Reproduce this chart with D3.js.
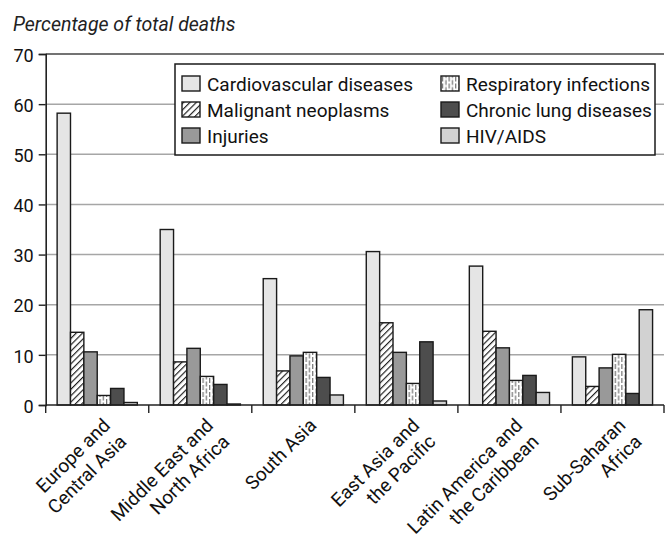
<!DOCTYPE html>
<html>
<head>
<meta charset="utf-8">
<script src="https://cdn.jsdelivr.net/npm/d3@7"></script>
<style>
  html, body { margin: 0; padding: 0; background: #fff; }
  svg { display: block; }
</style>
</head>
<body>
<svg id="chart" width="665" height="538"></svg>
<script>
// ---- Data ----
const categories = [
  ["Europe and", "Central Asia"],
  ["Middle East and", "North Africa"],
  ["South Asia"],
  ["East Asia and", "the Pacific"],
  ["Latin America and", "the Caribbean"],
  ["Sub-Saharan", "Africa"]
];
const seriesNames = ["Cardiovascular diseases", "Malignant neoplasms", "Injuries",
                     "Respiratory infections", "Chronic lung diseases", "HIV/AIDS"];
const cardiovascular = [58.2, 35.0, 25.2, 30.6, 27.7, 9.6];
const malignant      = [14.5, 8.6, 6.8, 16.4, 14.7, 3.7];
const injuries       = [10.6, 11.3, 9.8, 10.5, 11.4, 7.4];
const respiratory    = [1.9, 5.7, 10.5, 4.3, 4.9, 10.1];
const chronicLung    = [3.3, 4.1, 5.5, 12.6, 5.9, 2.3];
const hivAids        = [0.5, 0.2, 2.0, 0.8, 2.5, 19.0];
const yTicks = [0, 10, 20, 30, 40, 50, 60, 70];
const yTitle = "Percentage of total deaths";

const seriesValues = [cardiovascular, malignant, injuries, respiratory, chronicLung, hivAids];
const fills = ["#e5e5e5", "url(#hatch)", "#999999", "url(#dash)", "#4d4d4d", "#d2d2d2"];

// ---- Layout ----
const svg = d3.select("#chart");
const plotLeft = 45.7, plotRight = 664, plotTop = 54, plotBottom = 405;
const font = "Roboto, 'Liberation Sans', Arial, sans-serif";

const catIdx = categories.map((d, i) => i);
const x0 = d3.scaleBand().domain(catIdx).range([plotLeft, plotRight]).padding(0);
const x1 = d3.scaleBand().domain(d3.range(seriesNames.length))
  .range([0, x0.bandwidth()]).paddingInner(0).paddingOuter(0.855);
const y = d3.scaleLinear().domain([0, 70]).range([plotBottom, plotTop]);

// ---- Patterns ----
const defs = svg.append("defs");
const hatch = defs.append("pattern").attr("id", "hatch")
  .attr("patternUnits", "userSpaceOnUse").attr("width", 4.5).attr("height", 4.5)
  .attr("patternTransform", "rotate(45)");
hatch.append("rect").attr("width", 4.5).attr("height", 4.5).attr("fill", "#fff");
hatch.append("line").attr("x1", 0.6).attr("y1", 0).attr("x2", 0.6).attr("y2", 4.5)
  .attr("stroke", "#111").attr("stroke-width", 1.1);

const dash = defs.append("pattern").attr("id", "dash")
  .attr("patternUnits", "userSpaceOnUse").attr("width", 6.6).attr("height", 7);
dash.append("rect").attr("width", 6.6).attr("height", 7).attr("fill", "#fff");
dash.append("line").attr("x1", 1.6).attr("y1", 0).attr("x2", 1.6).attr("y2", 5)
  .attr("stroke", "#555").attr("stroke-width", 1);
dash.append("line").attr("x1", 4.9).attr("y1", 3.5).attr("x2", 4.9).attr("y2", 7)
  .attr("stroke", "#555").attr("stroke-width", 1);
dash.append("line").attr("x1", 4.9).attr("y1", 0).attr("x2", 4.9).attr("y2", 1.5)
  .attr("stroke", "#555").attr("stroke-width", 1);

// ---- Title ----
svg.append("text")
  .attr("x", 13).attr("y", 31)
  .attr("font-family", font).attr("font-style", "italic").attr("font-size", 19.5)
  .attr("fill", "#222")
  .text(yTitle);

// ---- Gridlines ----
svg.append("g").selectAll("line")
  .data(yTicks.filter(t => t > 0 && t < 70))
  .join("line")
  .attr("x1", plotLeft).attr("x2", plotRight)
  .attr("y1", d => y(d)).attr("y2", d => y(d))
  .attr("stroke", "#a6a6a6").attr("stroke-width", 1.5);
// top frame line
svg.append("line")
  .attr("x1", plotLeft).attr("x2", plotRight).attr("y1", y(70)).attr("y2", y(70))
  .attr("stroke", "#444").attr("stroke-width", 1.6);

// ---- Y axis ----
const yAxis = d3.axisLeft(y).tickValues(yTicks).tickSize(7).tickPadding(5).tickFormat(d3.format("d"));
const gy = svg.append("g").attr("transform", `translate(${plotLeft},0)`).call(yAxis);
gy.select(".domain").attr("stroke", "#222").attr("stroke-width", 1.6);
gy.selectAll(".tick line").attr("stroke", "#222").attr("stroke-width", 1.4);
gy.selectAll(".tick text").attr("font-family", font).attr("font-size", 18).attr("fill", "#111")
  .attr("dy", "0.4em");

// ---- Bars ----
const groups = svg.append("g").selectAll("g")
  .data(catIdx).join("g")
  .attr("transform", d => `translate(${x0(d)},0)`);
groups.selectAll("rect")
  .data(ci => seriesValues.map((vals, si) => ({ si, v: vals[ci] })))
  .join("rect")
  .attr("x", d => x1(d.si))
  .attr("width", x1.bandwidth())
  .attr("y", d => y(d.v))
  .attr("height", d => y(0) - y(d.v))
  .attr("fill", d => fills[d.si])
  .attr("stroke", "#1a1a1a").attr("stroke-width", 1.4);

// ---- X axis ----
svg.append("line")
  .attr("x1", plotLeft).attr("x2", plotRight).attr("y1", plotBottom).attr("y2", plotBottom)
  .attr("stroke", "#222").attr("stroke-width", 1.6);
const boundaries = catIdx.map(i => x0(i)).concat([x0(catIdx.length - 1) + x0.bandwidth()]);
svg.append("g").selectAll("line").data(boundaries).join("line")
  .attr("x1", d => d).attr("x2", d => d)
  .attr("y1", plotBottom).attr("y2", plotBottom + 8)
  .attr("stroke", "#222").attr("stroke-width", 1.4);

// category labels
const labels = svg.append("g").selectAll("g")
  .data(catIdx).join("g")
  .attr("transform", d => `translate(${x0(d) + x0.bandwidth() / 2},${plotBottom + 6}) rotate(-45)`);
labels.each(function (ci) {
  const g = d3.select(this);
  categories[ci].forEach((line, li) => {
    g.append("text")
      .attr("x", -1).attr("y", 21 + li * 23)
      .attr("text-anchor", "end")
      .attr("font-family", font).attr("font-size", 19).attr("fill", "#111")
      .text(line);
  });
});

// ---- Legend ----
const legend = svg.append("g");
legend.append("rect")
  .attr("x", 175).attr("y", 64).attr("width", 480).attr("height", 91)
  .attr("fill", "#fff").attr("stroke", "#1a1a1a").attr("stroke-width", 1.5);
const colX = [182, 441];
const rowY = [83.5, 109.5, 135.5];
const items = legend.selectAll("g").data(seriesNames.map((n, i) => ({ n, i }))).join("g")
  .attr("transform", d => `translate(${colX[Math.floor(d.i / 3)]},${rowY[d.i % 3]})`);
items.append("rect")
  .attr("x", 0).attr("y", -7.5).attr("width", 18).attr("height", 15)
  .attr("fill", d => fills[d.i]).attr("stroke", "#1a1a1a").attr("stroke-width", 1.4);
items.append("text")
  .attr("x", 25).attr("y", 7)
  .attr("font-family", font).attr("font-size", 19).attr("fill", "#111")
  .text(d => d.n);
</script>
</body>
</html>
